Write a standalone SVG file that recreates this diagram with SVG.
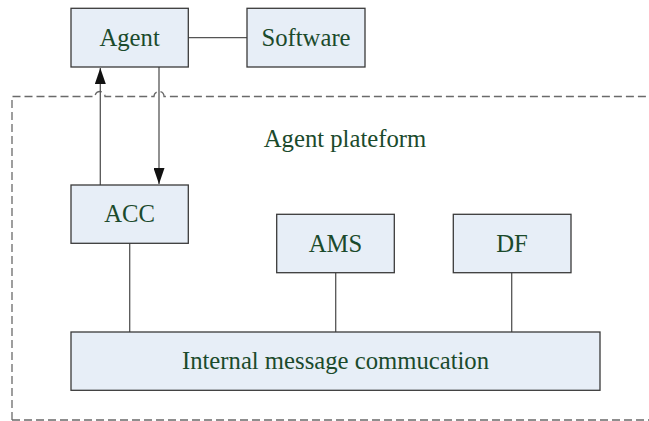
<svg xmlns="http://www.w3.org/2000/svg" width="649" height="421" viewBox="0 0 649 421">
<style>
.box{fill:#e7eef7;stroke:#3a3a3a;stroke-width:1.3}
.lbl{font-family:"Liberation Serif","Times New Roman",serif;font-size:24.7px;fill:#1b4a2c;text-anchor:middle}
.ln{stroke:#555;stroke-width:1.3;fill:none}
.dash{stroke:#6a6a6a;stroke-width:1.3;fill:none;stroke-dasharray:8 4}
</style>
<defs>
<marker id="ah" viewBox="0 0 16 11" refX="16" refY="5.5" markerWidth="16" markerHeight="11" markerUnits="userSpaceOnUse" orient="auto">
<path d="M0,0 L16,5.5 L0,11 Z" fill="#111"/>
</marker>
</defs>
<g id="platform">
<path class="dash" d="M12,420 V96.5 H95 A5,5 0 0 1 105,96.5 H154 A5,5 0 0 1 164,96.5 H660"/>
<path class="dash" d="M12,420 H660"/>
<text class="lbl" x="345" y="147">Agent plateform</text>
</g>
<g id="connectors">
<line class="ln" x1="188" y1="37.7" x2="247" y2="37.7"/>
<line class="ln" x1="100.3" y1="185" x2="100.3" y2="68" stroke="#222" marker-end="url(#ah)"/>
<line class="ln" x1="159" y1="67" x2="159" y2="184" marker-end="url(#ah)"/>
<line class="ln" x1="129.7" y1="243" x2="129.7" y2="332"/>
<line class="ln" x1="335.7" y1="273" x2="335.7" y2="332"/>
<line class="ln" x1="511.7" y1="272.5" x2="511.7" y2="332" stroke="#777"/>
</g>
<g id="agent">
<rect class="box" x="71" y="8.3" width="117.3" height="58.7"/>
<text class="lbl" x="129.6" y="45.7">Agent</text>
</g>
<g id="software">
<rect class="box" x="247" y="8.3" width="118" height="58.7"/>
<text class="lbl" x="306" y="45.7">Software</text>
</g>
<g id="acc">
<rect class="box" x="71" y="185" width="117.3" height="58.3"/>
<text class="lbl" x="129.6" y="222.3">ACC</text>
</g>
<g id="ams">
<rect class="box" x="276.7" y="214.3" width="117.6" height="58.4"/>
<text class="lbl" x="335.5" y="251.7">AMS</text>
</g>
<g id="df">
<rect class="box" x="453.3" y="214.3" width="117.7" height="58.4"/>
<text class="lbl" x="512" y="251.7">DF</text>
</g>
<g id="imc">
<rect class="box" x="71" y="332" width="529" height="58.3"/>
<text class="lbl" x="335.5" y="369.3">Internal message commucation</text>
</g>
</svg>
